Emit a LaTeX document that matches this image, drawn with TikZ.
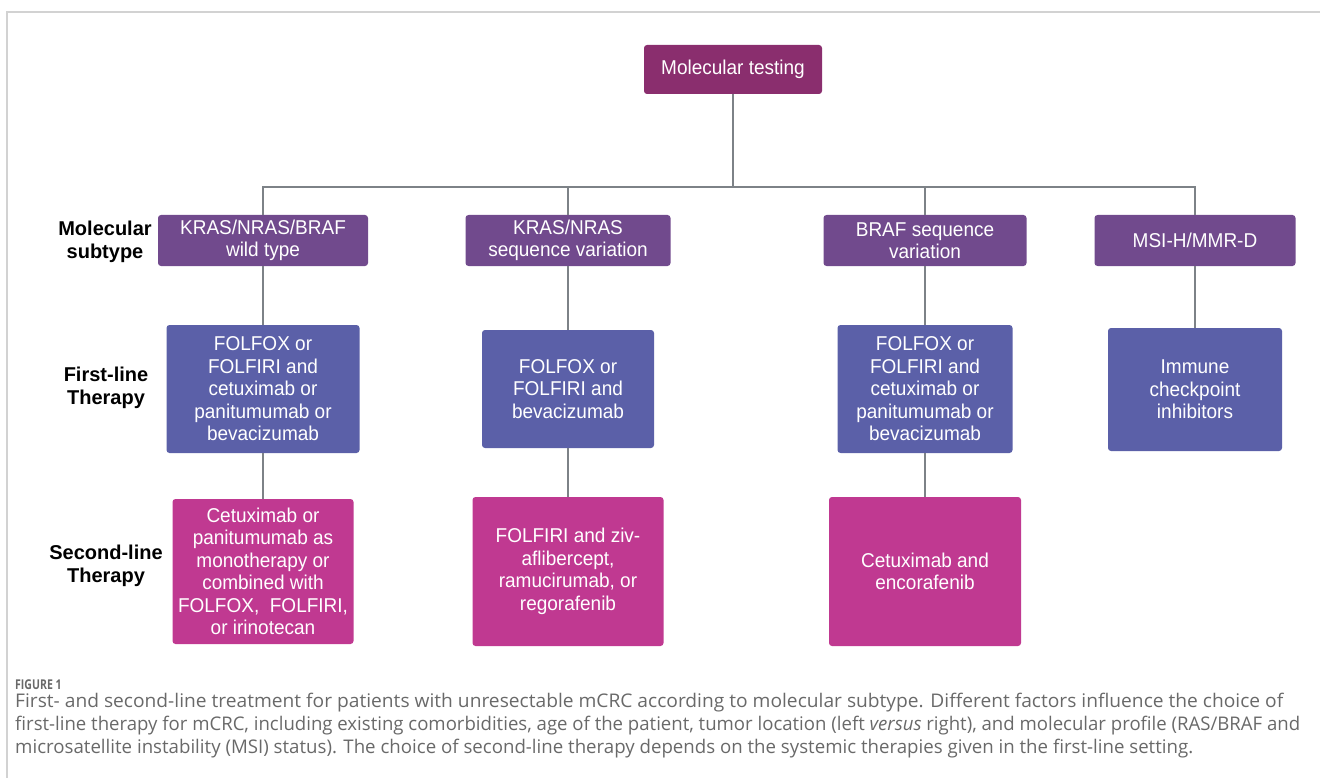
\documentclass[tikz,border=0pt]{standalone}
\usepackage{graphicx}
\usepackage{fontspec}
\setmainfont{Liberation Sans}
\newfontfamily\boxfont[FakeStretch=0.95]{Liberation Sans}
\newfontfamily\capfont{Open Sans}
\newfontfamily\figfont[FakeStretch=0.78]{Open Sans}
\definecolor{mtcol}{RGB}{138,46,110}
\definecolor{subcol}{RGB}{113,74,141}
\definecolor{firstcol}{RGB}{91,96,168}
\definecolor{secondcol}{RGB}{192,57,145}
\definecolor{linecol}{RGB}{125,130,135}
\definecolor{framecol}{RGB}{210,210,210}
\definecolor{captcol}{RGB}{105,105,105}
\tikzset{
  box/.style={rounded corners=3pt, inner sep=0pt, align=center, text=white,
    font=\boxfont\fontsize{20}{22.5}\selectfont},
  mtbox/.style={box, fill=mtcol},
  subbox/.style={box, fill=subcol},
  firstbox/.style={box, fill=firstcol},
  secbox/.style={box, fill=secondcol},
  rowlabel/.style={align=center, font=\bfseries\fontsize{20}{23}\selectfont, inner sep=0pt},
  conn/.style={draw=linecol, line width=2.6pt},
  capline/.style={anchor=base west, inner sep=0pt, text=captcol, font=\capfont\fontsize{18.8}{22}\selectfont}
}
\begin{document}
\begin{tikzpicture}[x=1pt,y=-1pt]
\useasboundingbox (0,0) rectangle (1320,778);
% frame
\draw[framecol, line width=1.5pt] (7,778) -- (7,12) -- (1320,12);
% top node
\node[mtbox, minimum width=178pt, minimum height=49pt] (mt) at (733,69.5) {Molecular testing};
% subtype nodes
\node[subbox, minimum width=210pt, minimum height=51pt] (s1) at (263,240.5) {KRAS/NRAS/BRAF\\wild type};
\node[subbox, minimum width=205pt, minimum height=51pt] (s2) at (568,240.5) {KRAS/NRAS\\sequence variation};
\node[subbox, minimum width=203pt, minimum height=51pt] (s3) at (925,240.5) {BRAF sequence\\variation};
\node[subbox, minimum width=201pt, minimum height=51pt] (s4) at (1195,240.5) {MSI-H/MMR-D};
% first line
\node[firstbox, minimum width=193pt, minimum height=128pt] (f1) at (263,389) {FOLFOX or\\FOLFIRI and\\cetuximab or\\panitumumab or\\bevacizumab};
\node[firstbox, minimum width=172pt, minimum height=118pt] (f2) at (568,389) {FOLFOX or\\FOLFIRI and\\bevacizumab};
\node[firstbox, minimum width=175pt, minimum height=128pt] (f3) at (925,389) {FOLFOX or\\FOLFIRI and\\cetuximab or\\panitumumab or\\bevacizumab};
\node[firstbox, minimum width=174pt, minimum height=123pt] (f4) at (1195,389.5) {Immune\\checkpoint\\inhibitors};
% second line
\node[secbox, minimum width=181pt, minimum height=145pt] (c1) at (263,571.5) {Cetuximab or\\panitumumab as\\monotherapy or\\combined with\\FOLFOX,\ \ FOLFIRI,\\or irinotecan};
\node[secbox, minimum width=191pt, minimum height=149pt] (c2) at (568,571.5) {FOLFIRI and ziv-\\aflibercept,\\ramucirumab, or\\regorafenib};
\node[secbox, minimum width=192pt, minimum height=149pt] (c3) at (925,571.5) {Cetuximab and\\encorafenib};
% row labels
\node[rowlabel] (l1) at (105,242) {Molecular\\subtype};
\node[rowlabel] (l2) at (106,388) {First-line\\Therapy};
\node[rowlabel] (l3) at (106,566) {Second-line\\Therapy};
% connectors
\coordinate (bus) at (733,187);
\draw[conn] (mt.south) -- (bus);
\draw[conn] (s1.north) |- (bus) -| (s4.north);
\draw[conn] (s2.north) -- (s2.north |- bus);
\draw[conn] (s3.north) -- (s3.north |- bus);
\draw[conn] (s1.south) -- (f1.north);
\draw[conn] (s2.south) -- (f2.north);
\draw[conn] (s3.south) -- (f3.north);
\draw[conn] (s4.south) -- (f4.north);
\draw[conn] (f1.south) -- (c1.north);
\draw[conn] (f2.south) -- (c2.north);
\draw[conn] (f3.south) -- (c3.north);
% caption
\node[capline, font=\figfont\bfseries\fontsize{13.5}{16}\selectfont] (cap0) at (15,689) {FIGURE 1};
\node[capline] (cap1) at (15,707) {\resizebox{1268pt}{\height}{First- and second-line treatment for patients with unresectable mCRC according to molecular subtype. Different factors influence the choice of}};
\node[capline] (cap2) at (15,730) {\resizebox{1285pt}{\height}{first-line therapy for mCRC, including existing comorbidities, age of the patient, tumor location (left \textit{versus} right), and molecular profile (RAS/BRAF and}};
\node[capline] (cap3) at (15,753) {\resizebox{1178pt}{\height}{microsatellite instability (MSI) status). The choice of second-line therapy depends on the systemic therapies given in the first-line setting.}};
\end{tikzpicture}
\end{document}
